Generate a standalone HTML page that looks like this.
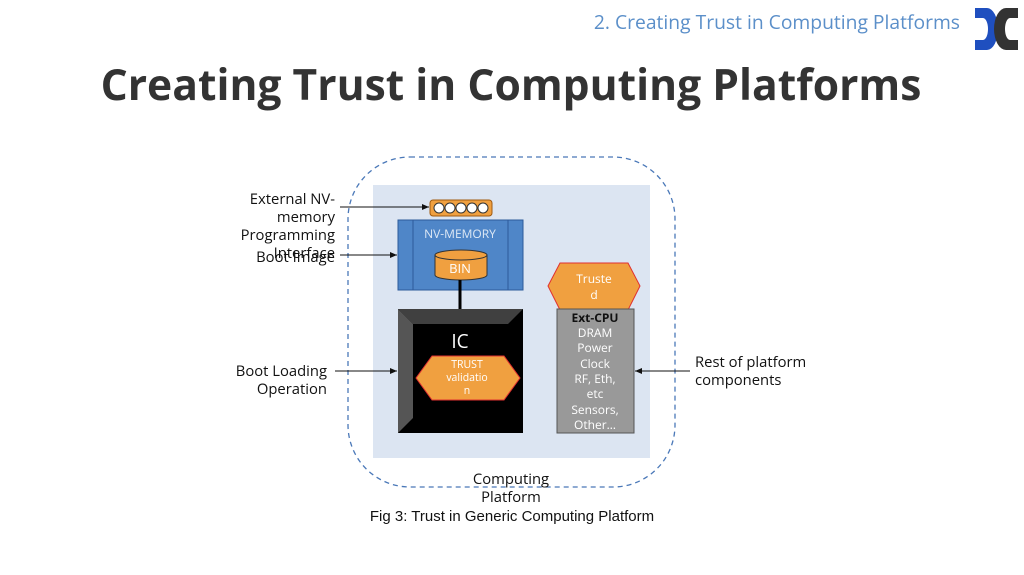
<!DOCTYPE html>
<html><head><meta charset="utf-8"><style>
body{margin:0;width:1024px;height:575px;overflow:hidden;background:#fff;font-family:"Liberation Sans",sans-serif;}
svg{position:absolute;left:0;top:0}
</style></head><body>
<svg width="1024" height="575" viewBox="0 0 1024 575" font-family="'Open Sans','DejaVu Sans','Liberation Sans',sans-serif">
<defs><marker id="a" markerWidth="8" markerHeight="8" refX="7" refY="4" orient="auto"><path d="M0,1 L7,4 L0,7z" fill="#111"/></marker></defs>
<text x="960" y="29" text-anchor="end" font-size="19.3" fill="#5b8fc9">2. Creating Trust in Computing Platforms</text>
<path d="M975,8 h12 a11,21 0 0 1 0,42 h-12 v-10 h8 a5,11 0 0 0 0,-22 h-8z" fill="#1f4fbf"/>
<path d="M1018,8 h-12 a12,21 0 0 0 0,42 h12 v-10 h-8 a5,11 0 0 1 0,-22 h8z" fill="#333"/>
<text x="511" y="100" text-anchor="middle" font-size="42.6" font-weight="bold" fill="#333">Creating Trust in Computing Platforms</text>
<rect x="373" y="185" width="277" height="273" fill="#dce5f2"/>
<rect x="348" y="157" width="327" height="330" rx="62" fill="none" stroke="#4a78b8" stroke-width="1.3" stroke-dasharray="5,4"/>
<rect x="430" y="200" width="62" height="16" rx="3" fill="#f0a040" stroke="#a05a10"/>
<g fill="#fff" stroke="#333"><circle cx="439" cy="208" r="5"/><circle cx="450" cy="208" r="5"/><circle cx="461" cy="208" r="5"/><circle cx="472" cy="208" r="5"/><circle cx="483" cy="208" r="5"/></g>
<rect x="398" y="220" width="125" height="70" fill="#4f86c8" stroke="#2d5a9a"/>
<line x1="413" y1="220" x2="413" y2="290" stroke="#2d5a9a"/><line x1="508" y1="220" x2="508" y2="290" stroke="#2d5a9a"/>
<text x="460" y="238" text-anchor="middle" font-size="12" fill="#dde8f5">NV-MEMORY</text>
<path d="M435,255 v20 a26,5 0 0 0 52,0 v-20" fill="#f0a040" stroke="#333"/>
<ellipse cx="461" cy="255" rx="26" ry="5" fill="#f0a040" stroke="#333"/>
<text x="460" y="273" text-anchor="middle" font-size="13" fill="#fff">BIN</text>
<line x1="460" y1="280" x2="460" y2="309" stroke="#000" stroke-width="3"/>
<rect x="398" y="309" width="125" height="124" fill="#000"/>
<path d="M398,309 h125 l-15,15 h-95z" fill="#404040"/>
<path d="M398,309 v124 l15,-15 v-94z" fill="#555"/>
<text x="460" y="348" text-anchor="middle" font-size="19" fill="#fff">IC</text>
<path d="M416,378 L432,356 H504 L520,378 L504,400 H432z" fill="#f0a040" stroke="#e03030"/>
<text text-anchor="middle" font-size="10.5" fill="#fff"><tspan x="467" y="368">TRUST</tspan><tspan x="467" y="381">validatio</tspan><tspan x="467" y="394">n</tspan></text>
<path d="M548,286 L560,263 H628 L640,286 L628,310 H560z" fill="#f0a040" stroke="#e03030"/>
<text text-anchor="middle" font-size="12" fill="#fff"><tspan x="594" y="283">Truste</tspan><tspan x="594" y="299">d</tspan></text>
<rect x="557" y="309" width="77" height="124" fill="#999" stroke="#555"/>
<text text-anchor="middle" font-size="12" fill="#fff"><tspan x="595" y="322" font-weight="bold" fill="#111">Ext-CPU</tspan><tspan x="595" y="337">DRAM</tspan><tspan x="595" y="352">Power</tspan><tspan x="595" y="368">Clock</tspan><tspan x="595" y="383">RF, Eth,</tspan><tspan x="595" y="398">etc</tspan><tspan x="595" y="414">Sensors,</tspan><tspan x="595" y="429">Other…</tspan></text>
<g stroke="#111" stroke-width="1" marker-end="url(#a)">
<line x1="340" y1="207" x2="429" y2="207"/><line x1="340" y1="255" x2="397" y2="255"/>
<line x1="335" y1="371" x2="397" y2="371"/><line x1="690" y1="371" x2="635" y2="371"/></g>
<g font-size="14.8" fill="#111" text-anchor="end">
<text x="335" y="204">External NV-</text><text x="335" y="222">memory</text><text x="335" y="240">Programming</text><text x="335" y="258">Interface</text><text x="335" y="262">Boot Image</text>
<text x="327" y="376">Boot Loading</text><text x="327" y="394">Operation</text></g>
<text font-size="14.8" fill="#111"><tspan x="695" y="367">Rest of platform</tspan><tspan x="695" y="385">components</tspan></text>
<text text-anchor="middle" font-size="14.8" fill="#111"><tspan x="511" y="484">Computing</tspan><tspan x="511" y="502">Platform</tspan></text>
<text x="512" y="521" text-anchor="middle" font-size="15" fill="#111" font-family="'Liberation Sans',sans-serif">Fig 3: Trust in Generic Computing Platform</text>
</svg>
</body></html>
